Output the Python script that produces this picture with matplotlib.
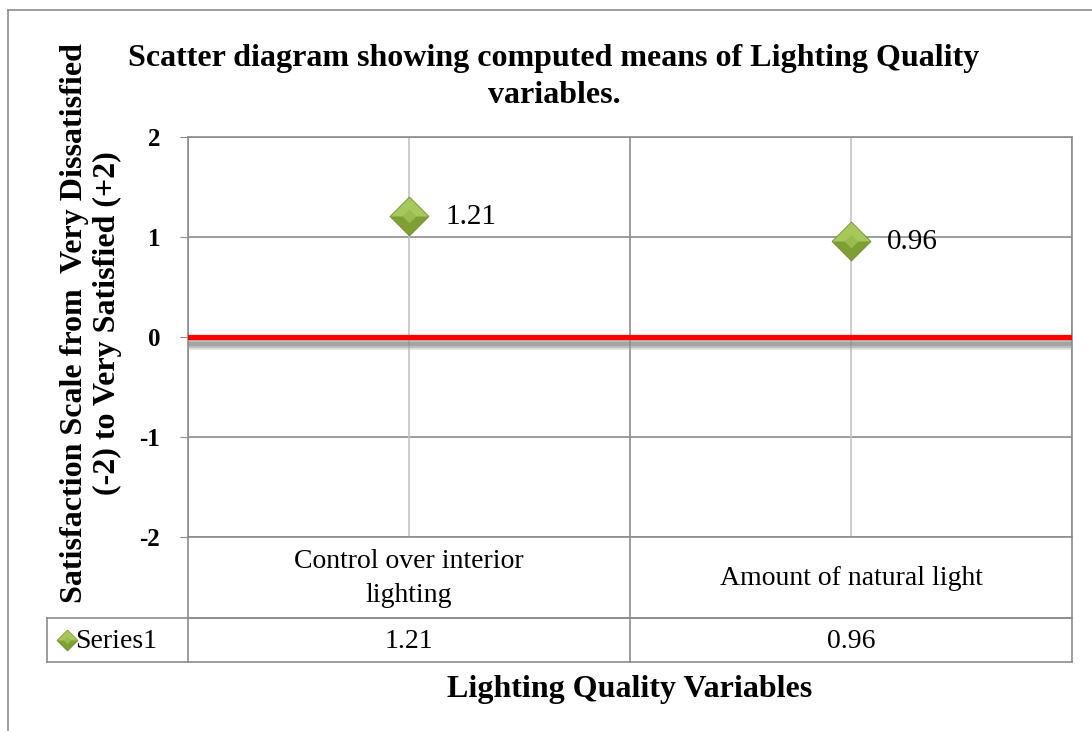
import matplotlib.pyplot as plt
import matplotlib.patheffects as pe
from matplotlib.lines import Line2D

# chart data
categories = ["Control over interior\nlighting", "Amount of natural light"]
means = [1.21, 0.96]
series_name = "Series1"
y_ticks = [-2, -1, 0, 1, 2]

plt.rcParams['font.family'] = ['Liberation Serif', 'DejaVu Serif']

GRID = '#8c8c8c'
LIGHT = '#c4c4c4'

# diamond marker pieces for a bevelled look
DIAMOND = [(0, 1), (1, 0), (0, -1), (-1, 0), (0, 1)]
TOP_HALF = [(-1, 0), (0, 1), (1, 0), (-1, 0)]
INNER = [(0, 0.35), (0.35, 0), (0, -0.35), (-0.35, 0), (0, 0.35)]


def draw_diamond(ax, x, y, size, **kw):
    ax.plot(x, y, linestyle='none', marker=DIAMOND, markersize=size,
            markerfacecolor='#7f9f35', markeredgecolor='#6d8a2a',
            markeredgewidth=0.6, **kw)
    ax.plot(x, y, linestyle='none', marker=TOP_HALF, markersize=size * 0.97,
            markerfacecolor='#a6c75a', markeredgewidth=0, **kw)
    ax.plot(x, y, linestyle='none', marker=INNER, markersize=size * 0.35,
            markerfacecolor='#9abb4e', markeredgewidth=0, **kw)


fig = plt.figure(figsize=(10.92, 7.31), dpi=100)
ax = fig.add_axes([188 / 1092, 1 - 537 / 731, 884 / 1092, 400 / 731])

xs = list(range(len(categories)))
ax.set_xlim(-0.5, len(categories) - 0.5)
ax.set_ylim(min(y_ticks), max(y_ticks))

# gridlines
for y in y_ticks:
    ax.axhline(y, color=GRID, lw=1.2, zorder=1)
for x in xs:
    ax.axvline(x, color=LIGHT, lw=1.2, zorder=1)
for i in range(len(categories) + 1):
    ax.plot([i - 0.5, i - 0.5], [min(y_ticks), max(y_ticks)], color=GRID, lw=1.2,
            zorder=1)

# zero reference line with a soft shadow
shadow = [pe.SimpleLineShadow(offset=(0, -4), shadow_color='#b0b0b0', alpha=0.35, linewidth=10),
          pe.SimpleLineShadow(offset=(0, -5), shadow_color='#909090', alpha=0.45, linewidth=6),
          pe.SimpleLineShadow(offset=(0, -5), shadow_color='#808080', alpha=0.4, linewidth=3),
          pe.Normal()]
ax.axhline(0, color='#ff0000', lw=3.8, zorder=3, path_effects=shadow)

for x, m in zip(xs, means):
    draw_diamond(ax, x, m, 28, zorder=5)
    ax.annotate(f'{m:.2f}', (x, m), xytext=(26, -1), textcoords='offset points',
                va='center', ha='left', fontsize=21, zorder=6)

ax.set_yticks(y_ticks)
ax.set_yticklabels([str(t) for t in y_ticks], fontweight='bold', fontsize=18)
ax.tick_params(axis='y', length=6, color=GRID, pad=14)
ax.set_xticks([])
for s in ax.spines.values():
    s.set_color(GRID)
    s.set_linewidth(1.2)

# data table below the plot area
row1 = -2.81
row2 = -3.25
left = -0.5 - 141 / 442
kw = dict(color=GRID, lw=1.2, clip_on=False, zorder=2)
ax.plot([-0.5, 1.5], [row1, row1], **kw)
ax.plot([left, 1.5], [row1, row1], **kw)
ax.plot([left, 1.5], [row2, row2], **kw)
ax.plot([left, left], [row1, row2], **kw)
for i in range(len(categories) + 1):
    ax.plot([i - 0.5, i - 0.5], [-2, row2], **kw)

for x, c, m in zip(xs, categories, means):
    ax.text(x, (-2 + row1) / 2 - 0.01, c, ha='center', va='center', fontsize=20,
            linespacing=1.45)
    ax.text(x, (row1 + row2) / 2 - 0.01, f'{m:.2f}', ha='center', va='center', fontsize=20)

draw_diamond(ax, left + 0.045, (row1 + row2) / 2, 15, clip_on=False, zorder=5)
ax.text(left + 0.063, (row1 + row2) / 2 - 0.01, series_name, ha='left', va='center',
        fontsize=20)

# titles
fig.text(554 / 1092, 1 - 77 / 731,
         'Scatter diagram showing computed means of Lighting Quality\nvariables.',
         ha='center', va='center', fontsize=23, fontweight='bold', linespacing=1.32)
fig.text(91 / 1092, 1 - 323 / 731,
         'Satisfaction Scale from  Very Dissatisfied\n(-2) to Very Satisfied (+2)',
         ha='center', va='center', rotation=90, fontsize=23, fontweight='bold',
         linespacing=1.2)
fig.text(630 / 1092, 1 - 690 / 731, 'Lighting Quality Variables', ha='center',
         va='center', fontsize=23, fontweight='bold')

# outer chart frame
fig.add_artist(Line2D([8 / 1092, 8 / 1092], [0, 1 - 10 / 731], color=GRID, lw=1.2))
fig.add_artist(Line2D([8 / 1092, 1], [1 - 10 / 731, 1 - 10 / 731], color=GRID, lw=1.2))

fig.savefig('out.png', dpi=100)
